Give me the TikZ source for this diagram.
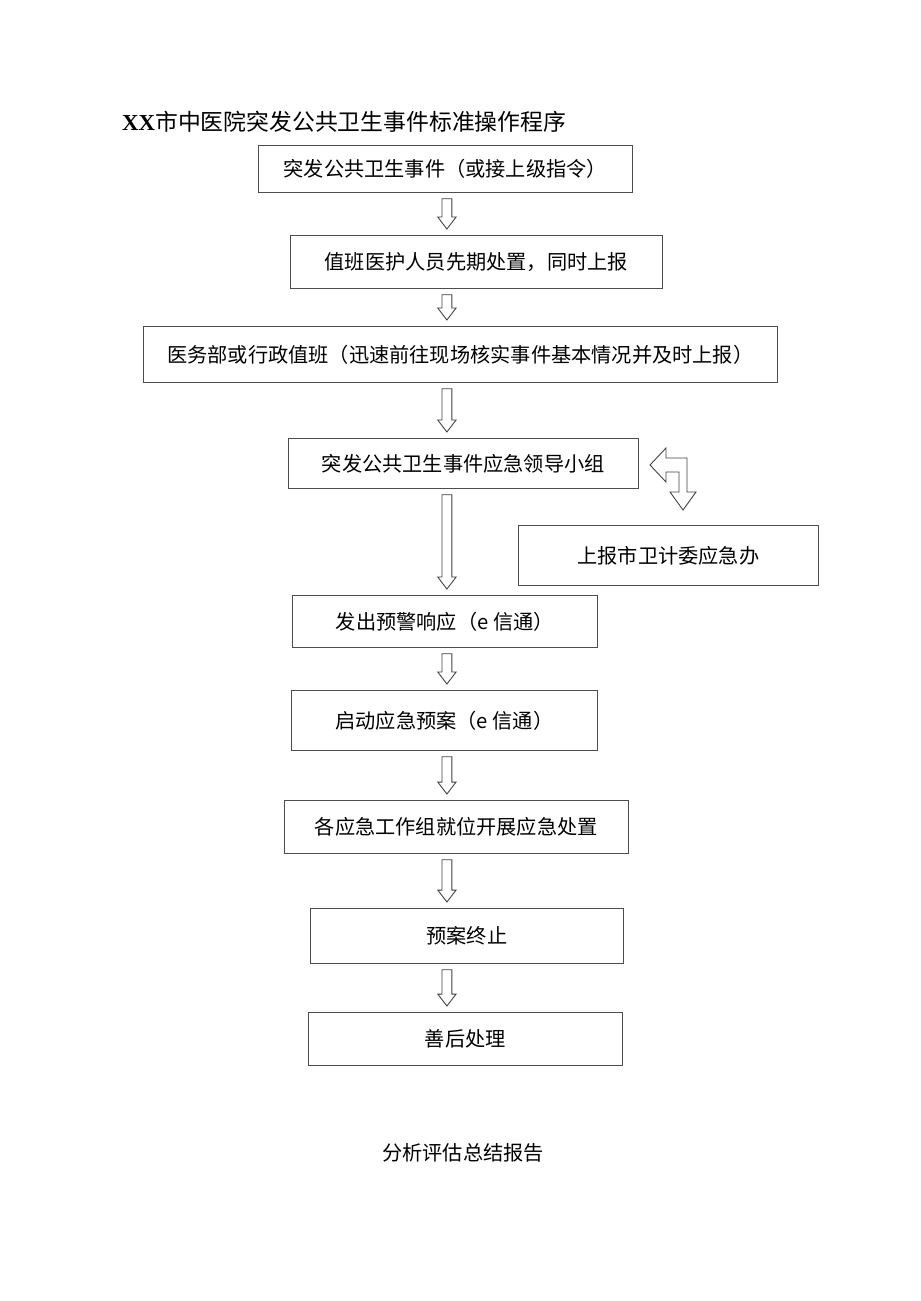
\documentclass[tikz,border=0pt]{standalone}
\usepackage{fontspec}
\setmainfont{Liberation Serif}
\newfontfamily\cjk{Noto Sans CJK SC}
\usetikzlibrary{calc}

\tikzset{
  stepbox/.style={draw=black!70, thin, anchor=north west, inner sep=0pt, font=\cjk\fontsize{11.5}{13}\selectfont},
  hollowline/.style={draw=black!75, fill=white, line width=0.5pt, line join=miter}
}
% hollow down arrow from node #1 to node #2 at x = 447px
\newcommand\harrow[2]{%
  \draw[hollowline] let \p1=($(#1.south)+(0,6)$), \p2=($(#2.north)+(0,-6)$) in
    ({8.94cm-2.8pt},\y1) -- ({8.94cm+2.8pt},\y1) -- ({8.94cm+2.8pt},\y2+6.8pt)
    -- ({8.94cm+5.2pt},\y2+6.8pt) -- (8.94cm,\y2) -- ({8.94cm-5.2pt},\y2+6.8pt)
    -- ({8.94cm-2.8pt},\y2+6.8pt) -- cycle;}

\begin{document}
\begin{tikzpicture}[x=0.02cm,y=-0.02cm]
  \useasboundingbox (0,0) rectangle (920,1301);

  % title
  \node[anchor=west, font=\cjk\fontsize{13}{15}\selectfont] (title) at (116,122)
    {\textbf{\rmfamily XX}市中医院突发公共卫生事件标准操作程序};

  % boxes
  \node[stepbox, minimum width=7.48cm, minimum height=0.94cm] (event) at (258,145) {突发公共卫生事件（或接上级指令）};
  \node[stepbox, minimum width=7.44cm, minimum height=1.06cm] (duty) at (290,235) {值班医护人员先期处置，同时上报};
  \node[stepbox, minimum width=12.68cm, minimum height=1.12cm] (admin) at (143,326) {医务部或行政值班（迅速前往现场核实事件基本情况并及时上报）};
  \node[stepbox, minimum width=7.0cm, minimum height=1.0cm] (leader) at (288,438) {突发公共卫生事件应急领导小组};
  \node[stepbox, minimum width=6.0cm, minimum height=1.2cm] (report) at (518,525) {上报市卫计委应急办};
  \node[stepbox, minimum width=6.1cm, minimum height=1.04cm] (warn) at (292,595) {发出预警响应（e 信通）};
  \node[stepbox, minimum width=6.12cm, minimum height=1.2cm] (plan) at (291,690) {启动应急预案（e 信通）};
  \node[stepbox, minimum width=6.88cm, minimum height=1.06cm] (groups) at (284,800) {各应急工作组就位开展应急处置};
  \node[stepbox, minimum width=6.26cm, minimum height=1.1cm] (stop) at (310,908) {预案终止};
  \node[stepbox, minimum width=6.28cm, minimum height=1.06cm] (after) at (308,1012) {善后处理};

  \node[font=\cjk\fontsize{11.5}{13}\selectfont] (summary) at (463,1153) {分析评估总结报告};

  % arrows
  \harrow{event}{duty}
  \harrow{duty}{admin}
  \harrow{admin}{leader}
  \harrow{leader}{warn}
  \harrow{warn}{plan}
  \harrow{plan}{groups}
  \harrow{groups}{stop}
  \harrow{stop}{after}

  % bent arrow between leader group and report
  \draw[hollowline] (650,465) -- (666,448) -- (666,458) -- (687,458) -- (687,492)
    -- (696,492) -- (683,510) -- (670,492) -- (679,492) -- (679,472) -- (666,472)
    -- (666,482) -- cycle;
\end{tikzpicture}
\end{document}
